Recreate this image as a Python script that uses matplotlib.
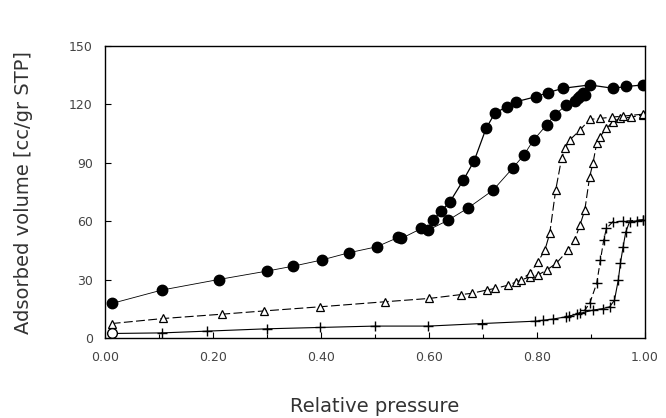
#!/usr/bin/env python
# -*- coding: utf-8 -*-

"""Isotermas de adsorcion (tres muestras) con histeresis"""

import matplotlib
matplotlib.use("Agg")
from matplotlib import pyplot as plt
from matplotlib.ticker import MultipleLocator

# muestra 1 (circulos llenos)
p1_ads = [0.012, 0.105, 0.210, 0.299, 0.349, 0.401, 0.451, 0.503, 0.543, 0.549, 0.586,
          0.599, 0.636, 0.673, 0.719, 0.756, 0.776, 0.794, 0.818, 0.833, 0.855, 0.870, 0.876]
v1_ads = [17.8, 24.7, 30.1, 34.4, 37.0, 40.1, 43.8, 46.9, 51.7, 51.2, 56.3,
          55.5, 60.6, 66.9, 76.0, 87.5, 94.0, 101.7, 109.4, 114.6, 119.7, 122.0, 123.1]
p1_des = [0.997, 0.966, 0.941, 0.898, 0.849, 0.821, 0.799, 0.762, 0.744, 0.722,
          0.706, 0.684, 0.664, 0.639, 0.623, 0.608]
v1_des = [130.0, 129.2, 128.3, 130.0, 128.3, 126.1, 124.0, 121.4, 118.8, 115.4,
          107.7, 91.1, 81.2, 70.0, 65.4, 60.6]
p1_top = [0.880, 0.886, 0.890]
v1_top = [124.5, 126.0, 125.0]

# muestra 2 (triangulos abiertos)
p2_ads = [0.012, 0.108, 0.216, 0.295, 0.398, 0.519, 0.601, 0.660, 0.679, 0.707, 0.722,
          0.747, 0.762, 0.787, 0.802, 0.818, 0.836, 0.858, 0.870, 0.880, 0.889, 0.898,
          0.904, 0.911, 0.917, 0.929, 0.941, 0.954, 0.975, 0.997]
v2_ads = [7.5, 10.1, 12.3, 14.0, 16.1, 18.7, 20.4, 22.4, 23.0, 24.7, 25.5,
          27.2, 28.9, 31.5, 32.4, 34.9, 38.4, 45.2, 50.3, 58.0, 65.8, 82.9,
          89.7, 100.0, 103.4, 107.7, 111.1, 112.8, 113.5, 114.6]
p2_des = [0.997, 0.960, 0.940, 0.917, 0.898, 0.880, 0.861, 0.852, 0.846, 0.835,
          0.824, 0.815, 0.802, 0.787, 0.770]
v2_des = [115.0, 114.0, 113.5, 112.8, 112.3, 106.8, 101.7, 97.4, 92.3, 76.0,
          53.8, 45.2, 39.2, 33.2, 30.0]

# muestra 3 (cruces, circulo abierto inicial)
p3_ads = [0.012, 0.105, 0.188, 0.299, 0.398, 0.500, 0.599, 0.698, 0.796, 0.812, 0.830,
          0.855, 0.880, 0.904, 0.923, 0.935, 0.944, 0.951, 0.955, 0.960, 0.965, 0.972,
          0.985, 0.997]
v3_ads = [2.4, 2.7, 3.6, 4.8, 5.5, 6.2, 6.2, 7.5, 8.7, 9.2, 9.8,
          11.0, 12.7, 14.4, 15.2, 16.1, 19.5, 29.8, 38.4, 46.9, 54.6, 59.8,
          60.2, 60.6]
p3_des = [0.997, 0.960, 0.941, 0.929, 0.924, 0.918, 0.911, 0.898, 0.889, 0.875, 0.860]
v3_des = [60.8, 60.0, 59.8, 56.3, 50.3, 40.1, 28.1, 17.8, 14.4, 12.5, 11.2]

x_ticks = [0.0, 0.2, 0.4, 0.6, 0.8, 1.0]
x_labels = ["0.00", "0.20", "0.40", "0.60", "0.80", "1.00"]
y_ticks = [0, 30, 60, 90, 120, 150]

fig = plt.figure(figsize=(6.66, 4.18), dpi=100)
ax = fig.add_axes([0.158, 0.191, 0.810, 0.699])

# muestra 1
ax.plot(p1_ads, v1_ads, "-", color="black", lw=0.6, marker="o", ms=7.5, mfc="black", mec="black")
ax.plot(p1_des, v1_des, "-", color="black", lw=0.9, marker="o", ms=7.5, mfc="black", mec="black")
ax.plot(p1_top, v1_top, "o", color="black", ms=7.5)

# muestra 2
ax.plot(p2_ads, v2_ads, "--", color="black", lw=0.8, marker="^", ms=6, mfc="white",
        mec="black", mew=0.9, dashes=(8, 3))
ax.plot(p2_des, v2_des, "--", color="black", lw=0.8, marker="^", ms=6, mfc="white",
        mec="black", mew=0.9, dashes=(8, 3))

# muestra 3
ax.plot(p3_ads[1:], v3_ads[1:], "-", color="black", lw=0.8, marker="+", ms=7, mew=1.0)
ax.plot(p3_des, v3_des, "--", color="black", lw=0.8, marker="+", ms=7, mew=1.0, dashes=(6, 3))
ax.plot(p3_ads[:2], v3_ads[:2], "-", color="black", lw=0.8)
ax.plot(p3_ads[0], v3_ads[0], "o", ms=7, mfc="white", mec="black", mew=1.0)

ax.set_xlim(0, 1)
ax.set_ylim(0, 150)
ax.set_xticks(x_ticks)
ax.set_xticklabels(x_labels)
ax.set_yticks(y_ticks)
ax.xaxis.set_minor_locator(MultipleLocator(0.1))
ax.tick_params(which="both", direction="in", length=4, width=0.8,
               labelsize=9, labelcolor="#444444", pad=9)
ax.tick_params(which="minor", length=3)
for s in ax.spines.values():
    s.set_linewidth(1.0)

ax.set_xlabel("Relative pressure", fontsize=14, color="#333333", labelpad=24)
ax.set_ylabel("Adsorbed volume [cc/gr STP]", fontsize=14, color="#333333", labelpad=26)

fig.savefig("out.png", dpi=100)
